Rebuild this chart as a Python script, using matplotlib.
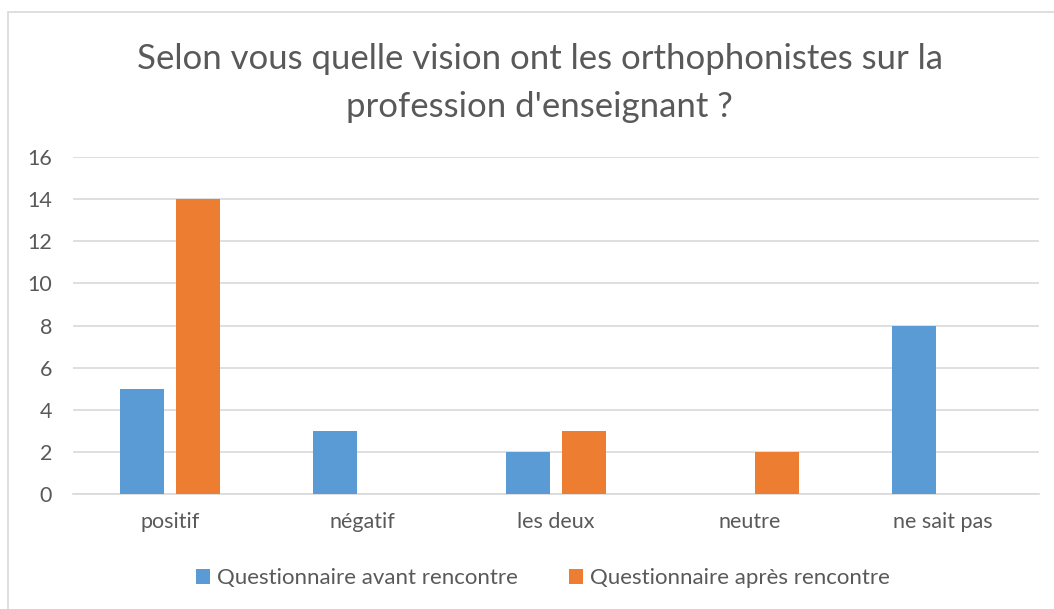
import numpy as np
import matplotlib.pyplot as plt
from matplotlib.patches import Rectangle

plt.rcParams['font.family'] = ['Lato', 'DejaVu Sans']

categories = ['positif', 'négatif', 'les deux', 'neutre', 'ne sait pas']
avant = [5, 3, 2, 0, 8]
apres = [14, 0, 3, 2, 0]
series_names = ['Questionnaire avant rencontre', 'Questionnaire après rencontre']
yticks = [0, 2, 4, 6, 8, 10, 12, 14, 16]

blue = '#5B9BD5'
orange = '#ED7D31'
txt = '#595959'
grid = '#D9D9D9'

fig = plt.figure(figsize=(10.54, 6.09), dpi=100)
ax = fig.add_axes([0.0693, 0.1888, 0.9165, 0.5534])

x = np.arange(len(categories))
w = 0.228
off = 0.145
ax.bar(x - off, avant, w, color=blue, label=series_names[0], zorder=3)
ax.bar(x + off, apres, w, color=orange, label=series_names[1], zorder=3)

ax.set_xlim(-0.5, len(categories) - 0.5)
ax.set_ylim(0, 16)
ax.set_yticks(yticks)
ax.set_xticks(x)
ax.set_xticklabels(categories)
ax.yaxis.grid(True, color=grid, linewidth=1.2, zorder=0)
for s in ['top', 'right', 'left']:
    ax.spines[s].set_visible(False)
ax.spines['bottom'].set_color(grid)
ax.spines['bottom'].set_linewidth(1.2)
ax.tick_params(axis='both', length=0, labelsize=15.5, colors=txt)
ax.tick_params(axis='y', pad=15)
ax.tick_params(axis='x', pad=13)

fig.text(0.512, 0.864, "Selon vous quelle vision ont les orthophonistes sur la\nprofession d'enseignant ?",
         ha='center', va='center', fontsize=25, color=txt, linespacing=1.6)

leg = fig.legend(loc='center', bbox_to_anchor=(0.515, 0.051), ncol=2, frameon=False,
                 fontsize=16, handlelength=0.65, handleheight=0.65, handletextpad=0.3,
                 columnspacing=2.3, labelcolor=txt)

fig.patches.append(Rectangle((0.0076, -0.05), 1.1, 1.03, transform=fig.transFigure,
                             fill=False, edgecolor='#D9D9D9', linewidth=1.2))

fig.savefig('out.png', dpi=100)
